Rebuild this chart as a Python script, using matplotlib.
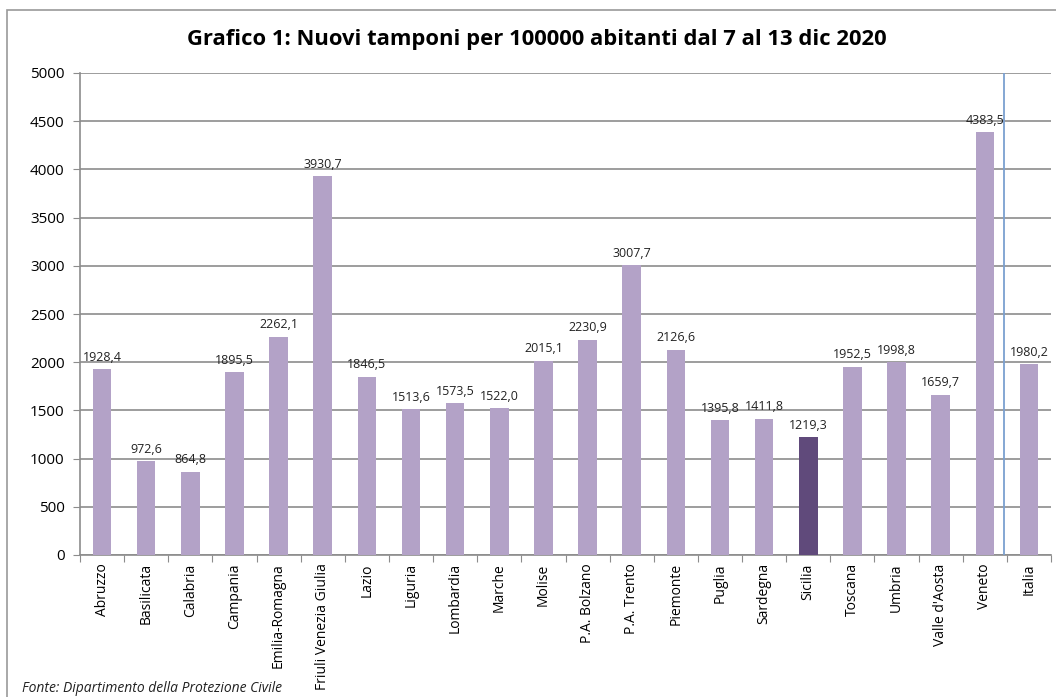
import numpy as np
import matplotlib.pyplot as plt
from matplotlib.patches import Rectangle

regions = ["Abruzzo", "Basilicata", "Calabria", "Campania", "Emilia-Romagna",
           "Friuli Venezia Giulia", "Lazio", "Liguria", "Lombardia", "Marche",
           "Molise", "P.A. Bolzano", "P.A. Trento", "Piemonte", "Puglia",
           "Sardegna", "Sicilia", "Toscana", "Umbria", "Valle d'Aosta",
           "Veneto", "Italia"]
tamponi = [1928.4, 972.6, 864.8, 1895.5, 2262.1, 3930.7, 1846.5, 1513.6,
           1573.5, 1522.0, 2015.1, 2230.9, 3007.7, 2126.6, 1395.8, 1411.8,
           1219.3, 1952.5, 1998.8, 1659.7, 4383.5, 1980.2]
highlight = "Sicilia"
yticks = [0, 500, 1000, 1500, 2000, 2500, 3000, 3500, 4000, 4500, 5000]

plt.rcParams['font.family'] = ['Open Sans', 'DejaVu Sans']

fig = plt.figure(figsize=(10.56, 6.97), dpi=100)
ax = fig.add_axes([80/1056, 1-555/697, (1051-80)/1056, (555-73)/697])

x = np.arange(len(regions))
colors = ["#604a7b" if r == highlight else "#b3a2c7" for r in regions]
bars = ax.bar(x, tamponi, width=0.42, color=colors, zorder=3)

for xi, v in zip(x, tamponi):
    ax.annotate(f"{v:.1f}".replace(".", ","), (xi, v), xytext=(0, 4),
                textcoords="offset points", ha="center", va="bottom",
                fontsize=9, color="#222222", zorder=4)

ax.set_xlim(-0.5, len(regions) - 0.5)
ax.set_ylim(0, 5000)
ax.set_yticks(yticks)
ax.yaxis.grid(True, color="#8c8c8c", linewidth=1.2, zorder=0)
ax.set_axisbelow(True)

# category boundaries as ticks, labels centered
ax.set_xticks(np.arange(len(regions) + 1) - 0.5)
ax.set_xticklabels([])
ax.set_xticks(x, minor=True)
ax.set_xticklabels(regions, minor=True, rotation=90, fontsize=10)
ax.tick_params(axis="x", which="minor", length=0, pad=6)
ax.tick_params(axis="x", which="major", length=5, color="#8c8c8c")
ax.tick_params(axis="y", length=5, color="#8c8c8c", labelsize=11, pad=6)

for s in ["top", "right"]:
    ax.spines[s].set_visible(False)
for s in ["left", "bottom"]:
    ax.spines[s].set_color("#8c8c8c")
    ax.spines[s].set_linewidth(1.2)

# separator between regions and national value
ax.axvline(len(regions) - 1.57, color="#7ba0d0", linewidth=1.3, zorder=5)

fig.text(537/1056, 1-40/697, "Grafico 1: Nuovi tamponi per 100000 abitanti dal 7 al 13 dic 2020",
         ha="center", va="center", fontsize=15.8, fontweight="bold")
fig.text(22/1056, 1-688/697, "Fonte: Dipartimento della Protezione Civile",
         ha="left", va="center", fontsize=10, style="italic", color="#222222")

fig.add_artist(Rectangle((7/1056, -0.1), 1.1, 1.1 - 10/697,
                         transform=fig.transFigure, fill=False,
                         edgecolor="#999999", linewidth=1.2))

fig.savefig("out.png", dpi=100)
